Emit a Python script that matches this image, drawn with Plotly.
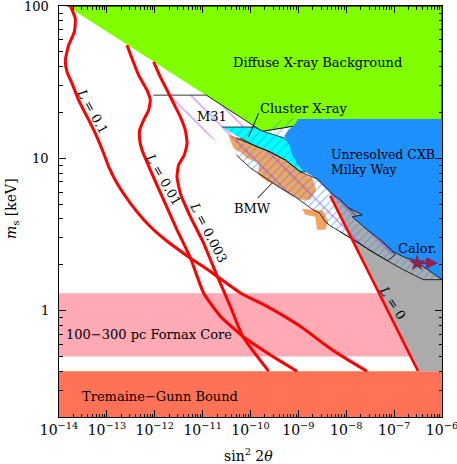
import numpy as np
import plotly.graph_objects as go

# values: log10(sin^2 2theta) and log10(m_s / keV)
X_RANGE = [-14.0005, -5.9995]
Y_RANGE = [np.log10(0.2), 2.0005]

tremaine_gunn_m = [0.2, 0.4]
fornax_m = [0.5, 1.3]

dxb_lx = [-13.833, -6.0, -6.0, -8.960, -9.753]
dxb_lm = [2.0, 2.0, 1.2185, 1.2185, 1.177]

cxb_lx = [-9.002, -6.0, -6.0, -6.599, -6.766, -7.017, -7.289, -7.560, -7.874,
          -7.665, -7.957, -8.124, -8.270, -8.605, -8.855, -9.022, -9.127,
          -9.169, -9.231, -9.294, -9.210, -9.085]
cxb_lm = [1.258, 1.258, 0.203, 0.334, 0.347, 0.3865, 0.465, 0.5306, 0.6158,
          0.6289, 0.6747, 0.7272, 0.7599, 0.8647, 0.9106, 0.9695, 1.022,
          1.0744, 1.1137, 1.1464, 1.1857, 1.2185]

l0_lx = [-8.333, -6.50]
l0_lm = [0.7534, -0.398]
gray_lx = [-8.333, -6.50, -6.0, -6.0, -8.1]
gray_lm = [0.7534, -0.398, -0.398, 1.0, 1.0]

band_lx = [-10.297, -9.900, -9.586, -9.273, -8.960, -8.605, -8.270, -8.124,
           -7.957, -7.665, -7.874, -7.560, -7.289, -7.017, -6.766, -6.599,
           -6.0, -6.390, -6.808, -7.142, -7.497, -7.811, -8.124, -8.333,
           -8.437, -8.542, -8.751, -9.064, -9.378, -9.691, -10.004, -10.297]
band_lm = [1.1333, 1.081, 1.0416, 0.9892, 0.9106, 0.8647, 0.7599, 0.7272,
           0.6747, 0.6289, 0.6158, 0.5306, 0.465, 0.3865, 0.347, 0.334,
           0.203, 0.203, 0.2686, 0.3275, 0.393, 0.4586, 0.5175, 0.5568,
           0.583, 0.6354, 0.6747, 0.7468, 0.8058, 0.8713, 0.9368, 1.022]

m31_lx = [-12.030, -10.923, -9.753, -8.333, -6.975, -7.142, -8.124]
m31_lm = [1.415, 1.415, 1.177, 0.7927, 0.3668, 0.3275, 0.5175]

cyan_lx = [-10.589, -9.921, -9.753, -9.482, -9.294, -9.231, -9.127, -9.022,
           -8.855, -8.960, -9.273, -9.586, -9.900, -10.213]
cyan_lm = [1.2054, 1.2054, 1.1792, 1.153, 1.1333, 1.1137, 1.0744, 0.9695,
           0.9106, 0.9106, 0.9892, 1.0416, 1.081, 1.1333]

cluster_lx = [-10.589, -9.921, -9.753, -9.586, -9.482, -9.273, -9.169, -8.960,
              -9.085, -9.210, -9.294, -9.231, -9.127, -9.022, -8.855, -8.960,
              -9.273, -9.586, -9.900, -10.213]
cluster_lm = [1.2054, 1.2054, 1.1792, 1.2316, 1.2513, 1.2447, 1.2644, 1.2578,
              1.2185, 1.1857, 1.1464, 1.1137, 1.0744, 0.9695, 0.9106, 0.9106,
              0.9892, 1.0416, 1.081, 1.1333]

bmw_lx = [-10.464, -10.213, -9.900, -9.586, -9.273, -8.960, -8.709, -8.625,
          -8.751, -8.960, -9.064, -9.378, -9.551, -9.655, -9.831, -9.831,
          -10.073, -10.177, -10.353, -10.422]
bmw_lm = [1.153, 1.1333, 1.081, 1.0416, 0.9892, 0.9106, 0.8713, 0.7927,
          0.7272, 0.7272, 0.7468, 0.8058, 0.8366, 0.847, 0.891, 0.9676,
          1.0003, 1.0331, 1.0658, 1.1202]
bmw2_lx = [-8.924, -8.479, -8.375, -8.437, -8.611, -8.646, -8.855]
bmw2_lm = [0.6682, 0.6551, 0.583, 0.5306, 0.5306, 0.6158, 0.6289]

l01_lx = [-13.76, -13.660, -13.680, -13.799, -13.868, -13.833, -13.728, -13.591,
          -13.415, -13.242, -13.068, -12.964, -12.789, -12.511, -12.162,
          -11.780, -11.299, -10.840, -10.213, -9.655, -8.960, -8.402, -7.921,
          -7.567]
l01_lm = [2.0, 1.917, 1.830, 1.743, 1.644, 1.568, 1.492, 1.382, 1.273, 1.164,
          1.033, 0.945, 0.837, 0.706, 0.574, 0.465, 0.354, 0.257, 0.116, 0.028,
          -0.103, -0.234, -0.332, -0.398]

l001_lx = [-12.580, -12.475, -12.337, -12.162, -12.093, -12.128, -12.233,
           -12.316, -12.316, -12.266, -12.093, -11.815, -11.535, -11.257,
           -10.980, -10.631, -10.165, -9.655, -9.378, -9.029]
l001_lm = [1.7426, 1.6554, 1.546, 1.4478, 1.3822, 1.3167, 1.2512, 1.1857,
           1.1202, 1.0547, 0.9237, 0.7272, 0.5306, 0.347, 0.116, -0.0373,
           -0.1683, -0.2771, -0.3321, -0.398]

l0003_lx = [-12.024, -11.884, -11.744, -11.606, -11.466, -11.362, -11.326,
            -11.383, -11.502, -11.535, -11.466, -11.257, -10.980, -10.700,
            -10.422, -10.165, -9.864, -9.622]
l0003_lm = [1.6332, 1.5349, 1.4478, 1.3606, 1.2729, 1.1857, 1.0986, 1.022,
            0.9564, 0.8778, 0.7711, 0.6177, 0.4435, 0.2293, 0.0282, -0.1683,
            -0.2994, -0.398]

bmw_ptr_lx = [-9.852, -9.551]
bmw_ptr_lm = [0.7383, 0.8366]
cl_ptr_lx = [-9.831, -10.040]
cl_ptr_lm = [1.2951, 1.1418]

calor_lx = [-6.52]
calor_lm = [0.3125]
calor_arrow_lx = -6.08

y_tick_vals = [1, 10, 100]
y_tick_text = ["1", "10", "100"]

SERIF = "DejaVu Serif"
fig = go.Figure()


def poly(lx, lm, fill, line_color=None, line_width=0, pattern=None):
    kw = {}
    if pattern is not None:
        kw["fillpattern"] = pattern
    fig.add_trace(go.Scatter(
        x=10 ** np.array(lx), y=10 ** np.array(lm), mode="lines",
        fill="toself", fillcolor=fill,
        line=dict(color=line_color or "rgba(0,0,0,0)", width=line_width),
        hoverinfo="skip", showlegend=False, **kw))


def band(lo, hi, color):
    xs = [1e-14, 1e-6, 1e-6, 1e-14]
    fig.add_trace(go.Scatter(x=xs, y=[lo, lo, hi, hi], mode="lines",
                             fill="toself", fillcolor=color,
                             line=dict(width=0), hoverinfo="skip",
                             showlegend=False))


band(*tremaine_gunn_m, "#FF7256")
band(*fornax_m, "#FFAAB5")
poly(gray_lx, gray_lm, "#ABABAB")
poly(dxb_lx, dxb_lm, "#7FFF00", "black", 1)
poly(bmw_lx, bmw_lm, "#F4A460")
poly(bmw2_lx, bmw2_lm, "#F4A460")
poly(m31_lx, m31_lm, "rgba(0,0,0,0)", "black", 0.8,
     dict(shape="\\", fgcolor="#9A32F0", bgcolor="rgba(0,0,0,0)",
          size=15, solidity=0.1))
poly(cyan_lx, cyan_lm, "#00FFFF", "black", 0.8)
poly(cluster_lx, cluster_lm, "rgba(0,0,0,0)", None, 0,
     dict(shape="/", fgcolor="#1E90FF", bgcolor="rgba(0,0,0,0)",
          size=7, solidity=0.18))
poly(cxb_lx, cxb_lm, "#1E90FF")
poly(band_lx, band_lm, "rgba(0,0,0,0)", "black", 0.8,
     dict(shape="/", fgcolor="#1E90FF", bgcolor="rgba(0,0,0,0)",
          size=6, solidity=0.2))

for lx, lm, w in [(l01_lx, l01_lm, 3), (l001_lx, l001_lm, 3),
                  (l0003_lx, l0003_lm, 3), (l0_lx, l0_lm, 2.5)]:
    fig.add_trace(go.Scatter(x=10 ** np.array(lx), y=10 ** np.array(lm),
                             mode="lines",
                             line=dict(color="#FF0000", width=w,
                                       shape="spline", smoothing=0.5),
                             hoverinfo="skip", showlegend=False))

for lx, lm in [(bmw_ptr_lx, bmw_ptr_lm), (cl_ptr_lx, cl_ptr_lm)]:
    fig.add_trace(go.Scatter(x=10 ** np.array(lx), y=10 ** np.array(lm),
                             mode="lines", line=dict(color="black", width=1),
                             hoverinfo="skip", showlegend=False))

fig.add_trace(go.Scatter(x=10 ** np.array(calor_lx), y=10 ** np.array(calor_lm),
                         mode="markers",
                         marker=dict(symbol="star", size=13, color="#8B2252"),
                         hoverinfo="skip", showlegend=False))
fig.add_annotation(x=calor_arrow_lx, y=calor_lm[0], ax=calor_lx[0], ay=calor_lm[0],
                   xref="x", yref="y", axref="x", ayref="y", text="",
                   showarrow=True, arrowhead=2, arrowsize=1.1, arrowwidth=2.2,
                   arrowcolor="#8B2252")

labels = [
    ("Diffuse X-ray Background", -8.594, 1.6266, 0, "center", 13),
    ("Cluster X-ray", -8.876, 1.3279, 0, "center", 13),
    ("M31", -10.798, 1.2774, 0, "center", 13),
    ("Unresolved CXB", -8.369, 1.022, 0, "left", 12.5),
    ("Milky Way", -8.369, 0.9237, 0, "left", 12.5),
    ("BMW", -9.952, 0.6728, 0, "center", 13),
    ("Calor.", -6.516, 0.4081, 0, "center", 13),
    ("<i>L</i> = 0.1", -13.294, 1.3102, 61, "center", 13),
    ("<i>L</i> = 0.01", -11.821, 0.8582, 60, "center", 13),
    ("<i>L</i> = 0.003", -10.881, 0.511, 63, "center", 13),
    ("<i>L</i> = 0", -7.038, 0.0524, 57, "center", 13),
    ("100\u2212300 pc Fornax Core", -12.114, -0.1572, 0, "center", 13),
    ("Tremaine\u2212Gunn Bound", -11.884, -0.5614, 0, "center", 13),
]
for text, x, y, ang, anchor, size in labels:
    fig.add_annotation(x=x, y=y, xref="x", yref="y", text=text, showarrow=False,
                       textangle=ang, xanchor=anchor, yanchor="middle",
                       font=dict(family=SERIF, size=size, color="black"))

# y tick labels placed next to the axis
for v, t in zip(y_tick_vals, y_tick_text):
    fig.add_annotation(xref="paper", yref="y", x=-0.022, y=np.log10(v),
                       text=t, showarrow=False, xanchor="right",
                       yanchor="middle",
                       font=dict(family=SERIF, size=13, color="black"))

fig.add_annotation(xref="paper", yref="paper", x=0.496, y=-0.092,
                   xanchor="center", yanchor="middle",
                   text="sin<sup>2</sup> 2<i>\u03b8</i>", showarrow=False,
                   font=dict(family=SERIF, size=14, color="black"))
fig.add_annotation(xref="paper", yref="paper", x=-0.123, y=0.5085,
                   xanchor="center", yanchor="middle",
                   text="<i>m</i><sub>s</sub> [keV]", showarrow=False,
                   textangle=-90, font=dict(family=SERIF, size=14, color="black"))

x_major = [10.0 ** k for k in range(-14, -5)]
x_text = [f"10<sup>\u2212{-k}</sup>" for k in range(-14, -5)]
x_minor = [m * 10.0 ** k for k in range(-14, -6) for m in range(2, 10)]
y_minor = [m * 10.0 ** k for k in range(-1, 2) for m in range(2, 10)]

axis_style = dict(type="log", showgrid=False, zeroline=False, showline=True,
                  linecolor="black", linewidth=1, mirror="allticks",
                  ticks="inside", ticklen=7, tickcolor="black", automargin=False,
                  ticklabeloverflow="allow")
fig.update_xaxes(range=X_RANGE, tickvals=x_major, ticktext=x_text,
                 tickfont=dict(family=SERIF, size=14, color="black"),
                 minor=dict(ticks="inside", ticklen=3.5, tickvals=x_minor,
                            tickcolor="black", showgrid=False),
                 **axis_style)
fig.update_yaxes(range=Y_RANGE, tickvals=y_tick_vals, showticklabels=False,
                 minor=dict(ticks="inside", ticklen=3.5, tickvals=y_minor,
                            tickcolor="black", showgrid=False),
                 **axis_style)
fig.update_layout(width=457, height=464, plot_bgcolor="white",
                  paper_bgcolor="white", showlegend=False,
                  margin=dict(l=59, r=15, t=6, b=47, autoexpand=False))

fig.write_html("out.html", config={"displayModeBar": False},
               post_script="document.body.style.margin='0px';")
